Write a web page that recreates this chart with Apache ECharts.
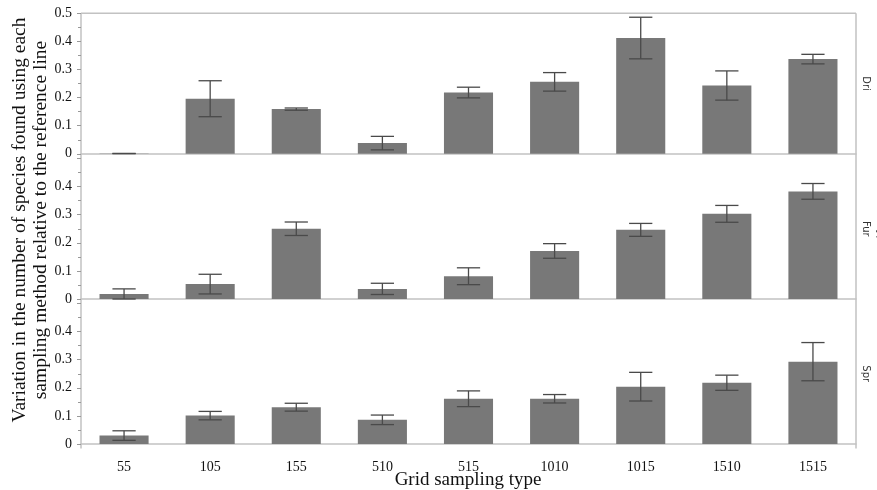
<!DOCTYPE html>
<html>
<head>
<meta charset="utf-8">
<script src="https://cdn.jsdelivr.net/npm/echarts@6/dist/echarts.min.js"></script>
<style>
  html, body { margin: 0; padding: 0; background: #fff; }
  #chart { width: 877px; height: 490px; }
</style>
</head>
<body>
<div id="chart"></div>
<script>
const categories = ["55", "105", "155", "510", "515", "1010", "1015", "1510", "1515"];
const panels = ["Dri", "Fur", "Spr"];

// mean and half-length of the error bar, per panel
const driMean = [0.001, 0.196, 0.159, 0.038, 0.218, 0.256, 0.412, 0.243, 0.337];
const driErr  = [0.000, 0.064, 0.004, 0.024, 0.019, 0.033, 0.074, 0.052, 0.017];
const furMean = [0.018, 0.053, 0.250, 0.036, 0.081, 0.171, 0.246, 0.303, 0.383];
const furErr  = [0.018, 0.035, 0.024, 0.020, 0.030, 0.026, 0.023, 0.030, 0.028];
const sprMean = [0.030, 0.101, 0.131, 0.086, 0.161, 0.161, 0.204, 0.218, 0.293];
const sprErr  = [0.017, 0.015, 0.014, 0.017, 0.028, 0.015, 0.051, 0.027, 0.068];

const yTicks = [0, 0.1, 0.2, 0.3, 0.4, 0.5];

const means = [driMean, furMean, sprMean];
const errs = [driErr, furErr, sprErr];

const serif = "'Liberation Serif', 'DejaVu Serif', serif";
const gridTops = [13.3, 158.5, 303.5];
const gridH = 140.5;

const chart = echarts.init(document.getElementById("chart"));

function errorBarItem(params, api) {
  const x = api.value(0);
  const lo = api.coord([x, api.value(1)]);
  const hi = api.coord([x, api.value(2)]);
  const half = api.size([1, 0])[0] * 0.135;
  const stroke = { stroke: "#4a4a4a", lineWidth: 1.3 };
  return {
    type: "group",
    children: [
      { type: "line", shape: { x1: hi[0], y1: hi[1], x2: lo[0], y2: lo[1] }, style: stroke },
      { type: "line", shape: { x1: hi[0] - half, y1: hi[1], x2: hi[0] + half, y2: hi[1] }, style: stroke },
      { type: "line", shape: { x1: lo[0] - half, y1: lo[1], x2: lo[0] + half, y2: lo[1] }, style: stroke },
    ],
  };
}

const grids = [], xAxes = [], yAxes = [], series = [];
panels.forEach((name, i) => {
  grids.push({ left: 81, right: 21, top: gridTops[i], height: gridH });
  xAxes.push({
    type: "category",
    gridIndex: i,
    data: categories,
    offset: 3.5,
    axisLine: { show: true, lineStyle: { color: "#c2c2c2", width: 1.5 } },
    axisTick: { show: false },
    axisLabel: {
      show: i === 2,
      margin: 13,
      color: "#111",
      fontFamily: serif,
      fontSize: 14,
    },
  });
  yAxes.push({
    type: "value",
    gridIndex: i,
    min: yTicks[0],
    max: yTicks[yTicks.length - 1],
    interval: 0.1,
    axisLine: { show: false },
    axisTick: { show: true, length: 4, lineStyle: { color: "#999" } },
    minorTick: { show: true, splitNumber: 2, length: 3, lineStyle: { color: "#999" } },
    splitLine: { show: false },
    axisLabel: {
      margin: 9,
      color: "#111",
      fontFamily: serif,
      fontSize: 14,
      formatter: (v) => {
        if (v === 0) return "0";
        if (i > 0 && v > 0.45) return "";
        return v.toFixed(1);
      },
    },
  });
  series.push({
    type: "bar",
    xAxisIndex: i,
    yAxisIndex: i,
    data: means[i],
    barWidth: "57%",
    itemStyle: { color: "#787878" },
    silent: true,
  });
  series.push({
    type: "custom",
    xAxisIndex: i,
    yAxisIndex: i,
    renderItem: errorBarItem,
    encode: { x: 0, y: [1, 2] },
    clip: false,
    data: means[i].map((m, k) => [k, m - errs[i][k], m + errs[i][k]]),
    z: 5,
    silent: true,
  });
});

const frame = { stroke: "#c2c2c2", lineWidth: 1.5 };
const graphic = [
  { type: "line", shape: { x1: 81, y1: 13.3, x2: 856, y2: 13.3 }, style: frame },
  { type: "line", shape: { x1: 81, y1: 13.3, x2: 81, y2: 448.5 }, style: frame },
  { type: "line", shape: { x1: 856, y1: 13.3, x2: 856, y2: 448.5 }, style: frame },
  {
    type: "text",
    x: 30, y: 220,
    rotation: Math.PI / 2,
    style: {
      text: "Variation in the number of species found using each\nsampling method relative to the reference line",
      font: "19.5px " + serif,
      fill: "#111",
      align: "center",
      verticalAlign: "middle",
      lineHeight: 21,
    },
  },
  {
    type: "text",
    x: 468, y: 480,
    style: {
      text: "Grid sampling type",
      font: "19px " + serif,
      fill: "#111",
      align: "center",
      verticalAlign: "middle",
    },
  },
  {
    type: "text",
    x: 881, y: 217,
    rotation: -Math.PI / 2,
    style: {
      text: "Season type",
      font: "10px 'DejaVu Sans', sans-serif",
      fill: "#333",
      align: "center",
      verticalAlign: "middle",
    },
  },
];
panels.forEach((name, i) => {
  graphic.push({
    type: "text",
    x: 866, y: gridTops[i] + gridH / 2,
    rotation: -Math.PI / 2,
    style: {
      text: name,
      font: "10px 'DejaVu Sans', sans-serif",
      fill: "#333",
      align: "center",
      verticalAlign: "middle",
    },
  });
});

chart.setOption({
  animation: false,
  backgroundColor: "#fff",
  grid: grids,
  xAxis: xAxes,
  yAxis: yAxes,
  series: series,
  graphic: graphic,
});
</script>
</body>
</html>
